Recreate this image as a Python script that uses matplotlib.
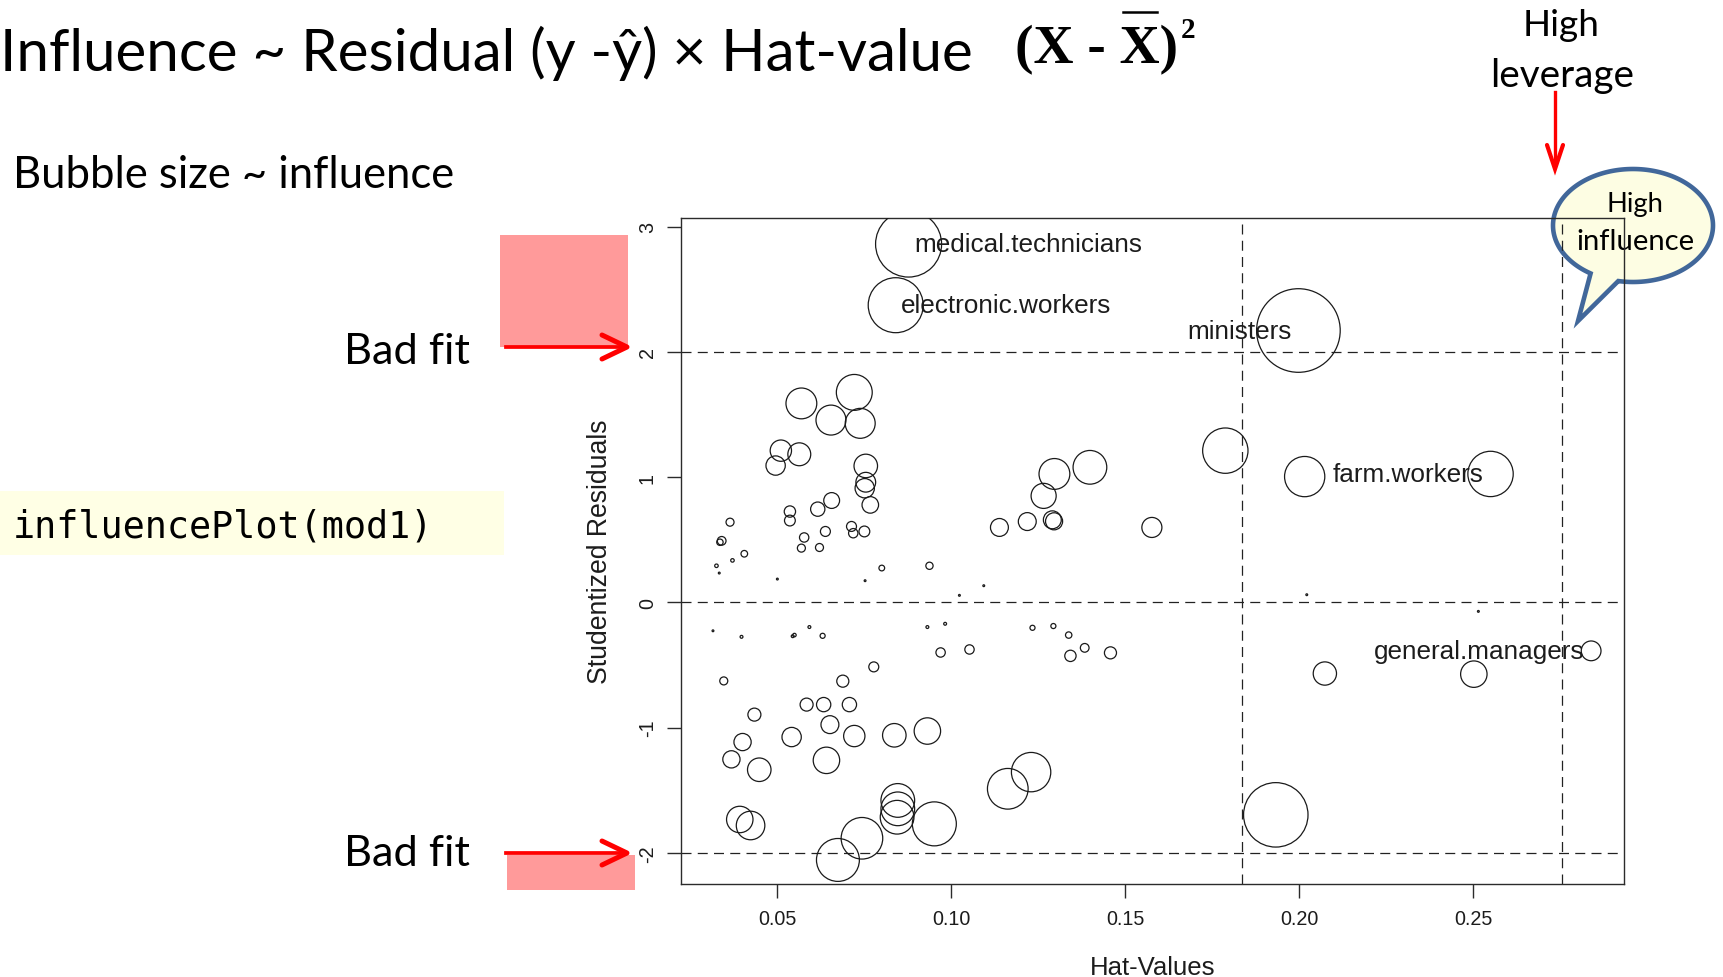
import numpy as np
import matplotlib
matplotlib.use("Agg")
import matplotlib.pyplot as plt
from matplotlib.patches import Rectangle, PathPatch
from matplotlib.path import Path
from matplotlib.transforms import Affine2D
from matplotlib.lines import Line2D
from matplotlib.ticker import FixedLocator, FixedFormatter

plt.rcParams["axes.unicode_minus"] = False

# ---------------------------------------------------------------- data
# influencePlot(mod1): hat-values, studentized residuals, Cook's distance
hat_values = np.array([
    0.0878, 0.0841, 0.1998, 0.2550, 0.2839,
    0.0570, 0.0722, 0.0655, 0.0739, 0.0511, 0.0564, 0.0496, 0.0755, 0.0755,
    0.0752, 0.0768, 0.0657, 0.0617, 0.0537, 0.0537, 0.0365, 0.0341, 0.0336,
    0.0406, 0.0578, 0.0570, 0.0622, 0.0639, 0.0714, 0.0719, 0.0751, 0.0326,
    0.0372, 0.0334, 0.0501, 0.0753, 0.0801, 0.0938, 0.1094, 0.1024,
    0.1297, 0.1399, 0.1266, 0.1291, 0.1296, 0.1219, 0.1139, 0.1577, 0.1788,
    0.2016, 0.2022, 0.2515,
    0.0316, 0.0398, 0.0550, 0.0545, 0.0593, 0.0631, 0.0932, 0.0983, 0.1234,
    0.1294, 0.1338, 0.1384, 0.1343, 0.1458, 0.1053, 0.0970, 0.0778, 0.0347,
    0.0689, 0.0585, 0.0634, 0.0708, 0.0435, 0.0652, 0.0542, 0.0722, 0.0837,
    0.0932, 0.0401, 0.0369, 0.0449, 0.0642, 0.1230, 0.1163, 0.0847, 0.0847,
    0.0845, 0.0952, 0.0393, 0.0424, 0.0744, 0.0675, 0.2074, 0.2502, 0.1933,
])
stud_resid = np.array([
    2.860, 2.372, 2.170, 1.025, -0.387,
    1.588, 1.676, 1.455, 1.429, 1.211, 1.182, 1.092, 1.089, 0.959,
    0.911, 0.778, 0.813, 0.744, 0.725, 0.653, 0.640, 0.491, 0.480,
    0.388, 0.518, 0.433, 0.438, 0.566, 0.606, 0.552, 0.566, 0.292,
    0.335, 0.234, 0.186, 0.173, 0.274, 0.292, 0.133, 0.056,
    1.025, 1.078, 0.850, 0.659, 0.647, 0.645, 0.598, 0.598, 1.211,
    1.004, 0.061, -0.072,
    -0.227, -0.275, -0.261, -0.270, -0.197, -0.267, -0.197, -0.171, -0.203,
    -0.189, -0.261, -0.363, -0.427, -0.403, -0.376, -0.400, -0.515, -0.627,
    -0.629, -0.816, -0.816, -0.816, -0.896, -0.976, -1.075, -1.067, -1.061,
    -1.027, -1.115, -1.253, -1.336, -1.261, -1.355, -1.488, -1.581, -1.648,
    -1.715, -1.768, -1.733, -1.781, -1.883, -2.056, -0.568, -0.573, -1.696,
])
cooks_d = np.array([
    0.0748, 0.0519, 0.1200, 0.0353, 0.0067,
    0.0163, 0.0221, 0.0154, 0.0154, 0.0078, 0.0090, 0.0064, 0.0095, 0.0067,
    0.0064, 0.0047, 0.0043, 0.0035, 0.0022, 0.0020, 0.0011, 0.0013, 0.0007,
    0.00075, 0.0015, 0.0011, 0.0011, 0.0017, 0.0017, 0.0015, 0.0020, 0.00021,
    0.00021, 0.00004, 0.00002, 0.00002, 0.00056, 0.0009, 0.00002, 0.00002,
    0.0163, 0.0195, 0.0108, 0.0055, 0.0050, 0.0055, 0.0055, 0.0069, 0.0353,
    0.0278, 0.00002, 0.00002,
    0.00002, 0.00014, 0.00021, 0.00014, 0.00014, 0.00044, 0.00014, 0.00014, 0.00044,
    0.00044, 0.00070, 0.0013, 0.0022, 0.0025, 0.0015, 0.0015, 0.0017, 0.0011,
    0.0025, 0.0029, 0.0035, 0.0035, 0.0029, 0.0055, 0.0064, 0.0078, 0.0095,
    0.0120, 0.0051, 0.0051, 0.0095, 0.0120, 0.0266, 0.0284, 0.0195, 0.0195,
    0.0195, 0.0332, 0.0120, 0.0140, 0.0297, 0.0316, 0.0093, 0.0120, 0.0713,
])
# labelled occupations: name, index into the arrays, side of the label
label_names = ["medical.technicians", "electronic.workers", "ministers",
               "farm.workers", "general.managers"]
label_index = [0, 1, 2, 3, 4]
label_side = ["right", "right", "left", "left", "left"]

mean_hat = 0.0918
resid_refs = [-2, 0, 2]
x_ticks = [0.05, 0.10, 0.15, 0.20, 0.25]
x_tick_labels = ["0.05", "0.10", "0.15", "0.20", "0.25"]
y_ticks = [-2, -1, 0, 1, 2, 3]
y_tick_labels = ["-2", "-1", "0", "1", "2", "3"]

# ---------------------------------------------------------------- figure
W, H = 1723, 978
fig = plt.figure(figsize=(W / 100, H / 100), dpi=100)
fig.patch.set_facecolor("white")
px = Affine2D().scale(1 / W, -1 / H).translate(0, 1) + fig.transFigure
renderer = fig.canvas.get_renderer()

R_FONT = ["Liberation Sans", "DejaVu Sans"]
SLIDE_FONT = ["Lato", "DejaVu Sans"]
INK = "#1c1c1c"

ax_l, ax_r, ax_t, ax_b = 681.3, 1624.2, 219.0, 885.0
ax = fig.add_axes([ax_l / W, 1 - ax_b / H, (ax_r - ax_l) / W, (ax_b - ax_t) / H])
ax.set_facecolor("none")
ax.set_xlim(0.0225, 0.2934)
ax.set_ylim(-2.248, 3.068)

# bubbles: radius proportional to sqrt(Cook's D)
r_px = 41.8 * np.sqrt(cooks_d / cooks_d.max())
r_px = np.maximum(r_px, 0.9)
sizes = (2 * r_px * 0.72) ** 2
ax.scatter(hat_values, stud_resid, s=sizes, facecolors="none",
           edgecolors="#1a1a1a", linewidths=0.9, zorder=3)

for ref in resid_refs:
    ax.axhline(ref, color="#222222", lw=0.9, ls=(0, (8, 5)), zorder=2)
for k in (2, 3):
    ax.axvline(k * mean_hat, color="#222222", lw=0.9, ls=(0, (8, 5)), zorder=2)

for name, idx, side in zip(label_names, label_index, label_side):
    dx = 4.0 if side == "right" else -5.0
    ax.annotate(name, (hat_values[idx], stud_resid[idx]), xytext=(dx, 0),
                textcoords="offset points", ha="left" if side == "right" else "right",
                va="center", fontsize=18.8, family=R_FONT, color=INK, zorder=4)

for sp in ax.spines.values():
    sp.set_color("#2b2b2b")
    sp.set_linewidth(1.0)

ax.xaxis.set_major_locator(FixedLocator(x_ticks))
ax.xaxis.set_major_formatter(FixedFormatter(x_tick_labels))
ax.yaxis.set_major_locator(FixedLocator(y_ticks))
ax.yaxis.set_major_formatter(FixedFormatter(y_tick_labels))
ax.tick_params(axis="both", length=10, width=1.0, color="#2b2b2b",
               labelsize=14.2, labelcolor=INK)
ax.tick_params(axis="x", pad=8.2)
ax.tick_params(axis="y", pad=7.5)
for lab in ax.get_xticklabels() + ax.get_yticklabels():
    lab.set_family(R_FONT)
for lab in ax.get_yticklabels():
    lab.set_rotation(90)
    lab.set_va("center")

ax.set_xlabel("Hat-Values", fontsize=18.5, family=R_FONT, color=INK)
ax.xaxis.label.set_va("baseline")
ax.xaxis.set_label_coords(0.5, (ax_b - 975) / (ax_b - ax_t))
ax.set_ylabel("Studentized Residuals", fontsize=19.2, family=R_FONT, color=INK)
ax.yaxis.label.set_va("baseline")
ax.yaxis.set_label_coords((607 - ax_l) / (ax_r - ax_l), 0.5)


# ---------------------------------------------------------------- slide notes
def fitted(x, y, s, width, ha="left", family=SLIDE_FONT, zorder=5, **kw):
    t = fig.text(x, y, s, transform=px, ha=ha, va="baseline", fontsize=20,
                 family=family, zorder=zorder, **kw)
    w = t.get_window_extent(renderer).width
    t.set_fontsize(20 * width / w)
    return t


fitted(0, 71, "Influence ~ Residual (y -\u0177) \u00d7 Hat-value", 976, color="black")

# (X - Xbar)^2 in a bold serif face
SERIF = ["Liberation Serif", "DejaVu Serif"]
f = fitted(1015, 63, "(X - X)", 164, family=SERIF, weight="bold", color="black")
fs = f.get_fontsize()
probe1 = fig.text(0, 0, "(X - X", fontsize=fs, family=SERIF, weight="bold")
probe2 = fig.text(0, 0, "X", fontsize=fs, family=SERIF, weight="bold")
w1 = probe1.get_window_extent(renderer).width
w2 = probe2.get_window_extent(renderer).width
probe1.remove()
probe2.remove()
x_start = f.get_window_extent(renderer).x0
fig.add_artist(Line2D([x_start + w1 - w2 + 3, x_start + w1 - 3], [13, 13],
                      transform=px, color="black", lw=1.8))
fig.text(1181, 38.5, "2", transform=px, fontsize=21, family=SERIF, weight="bold",
         color="black", va="baseline")

fitted(13, 188, "Bubble size ~ influence", 444, color="black")
fitted(1561, 36, "High", 77, ha="center", color="black")
fitted(1562, 86.5, "leverage", 144, ha="center", color="black")

# red pointer for high leverage
fig.add_artist(Line2D([1555, 1555], [93, 166], transform=px, color="#ff0000", lw=2.4))
fig.add_artist(Line2D([1547, 1555, 1563], [146, 170, 146], transform=px,
                      color="#ff0000", lw=3.0, solid_capstyle="round",
                      solid_joinstyle="miter"))

# bad-fit highlights and arrows
fig.add_artist(Rectangle((500, 236), 127.5, 111.5, transform=px,
                         facecolor="#ff9a9a", edgecolor="none", zorder=1))
fig.add_artist(Rectangle((506.6, 856), 128.4, 35, transform=px,
                         facecolor="#ff9a9a", edgecolor="none", zorder=1))
for yy in (348, 854):
    fig.add_artist(Line2D([506, 624], [yy, yy], transform=px, color="#ff0000",
                          lw=2.7, zorder=6))
    fig.add_artist(Line2D([602, 627, 602], [yy - 12, yy, yy + 12], transform=px,
                          color="#ff0000", lw=3.6, solid_capstyle="round",
                          solid_joinstyle="round", zorder=6))
fitted(344, 364, "Bad fit", 126, color="black")
fitted(344, 866, "Bad fit", 126, color="black")

# code snippet
fig.add_artist(Rectangle((0, 492), 504, 64, transform=px,
                         facecolor="#ffffe5", edgecolor="none", zorder=1))
fitted(13, 537, "influencePlot(mod1)", 421, family=["DejaVu Sans Mono"], color="black")

# speech bubble
cx, cy, a, b = 1633.0, 226.5, 80.0, 56.5
tt = np.linspace(np.deg2rad(259.4), np.deg2rad(238.0 + 360.0), 240)
xs = cx + a * np.cos(tt)
ys = cy - b * np.sin(tt)
verts = list(zip(xs, ys)) + [(1578.0, 322.0), (xs[0], ys[0])]
codes = [Path.MOVETO] + [Path.LINETO] * (len(verts) - 2) + [Path.CLOSEPOLY]
fig.add_artist(PathPatch(Path(verts, codes), transform=px, facecolor="#fdfde3",
                         edgecolor="#41679a", lw=3.3, joinstyle="miter", zorder=-2))
fitted(1635, 212, "High", 57, ha="center", color="black", zorder=-1)
fitted(1635, 250.5, "influence", 119, ha="center", color="black", zorder=-1)

fig.savefig("out.png", dpi=100, facecolor="white")
